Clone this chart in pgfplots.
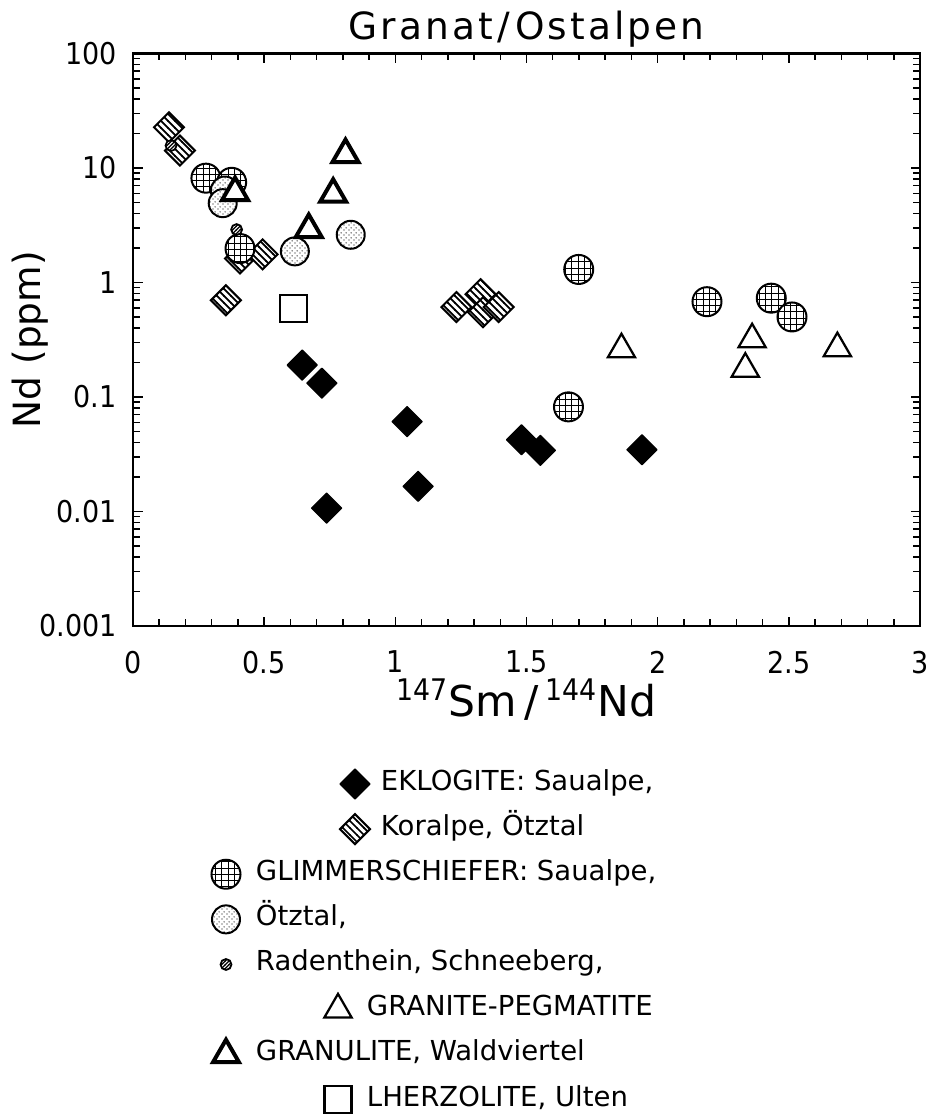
\documentclass[border=0pt]{standalone}
\usepackage{pgfplots}
\pgfplotsset{compat=1.18}
\usetikzlibrary{patterns}
\usepackage{fontspec}
\setmainfont{DejaVu Sans}
\newfontfamily\condfont{DejaVu Sans Condensed}

% fill patterns of the marks
\pgfdeclarepatternformonly{stripes}{\pgfqpoint{-1pt}{-1pt}}{\pgfqpoint{4pt}{4pt}}{\pgfqpoint{2.8pt}{2.8pt}}{%
  \pgfsetlinewidth{0.7pt}%
  \pgfpathmoveto{\pgfqpoint{-0.1pt}{2.9pt}}\pgfpathlineto{\pgfqpoint{2.9pt}{-0.1pt}}%
  \pgfusepath{stroke}}
\pgfdeclarepatternformonly{xgrid}{\pgfqpoint{-1pt}{-1pt}}{\pgfqpoint{3.5pt}{3.5pt}}{\pgfqpoint{2.5pt}{2.5pt}}{%
  \pgfsetlinewidth{0.45pt}%
  \pgfpathmoveto{\pgfqpoint{-0.1pt}{1.25pt}}\pgfpathlineto{\pgfqpoint{2.6pt}{1.25pt}}%
  \pgfpathmoveto{\pgfqpoint{1.25pt}{-0.1pt}}\pgfpathlineto{\pgfqpoint{1.25pt}{2.6pt}}%
  \pgfusepath{stroke}}
\pgfdeclarepatternformonly{fdots}{\pgfqpoint{0pt}{0pt}}{\pgfqpoint{1.8pt}{1.8pt}}{\pgfqpoint{1.8pt}{1.8pt}}{%
  \pgfpathcircle{\pgfqpoint{0.45pt}{0.45pt}}{0.28pt}%
  \pgfpathcircle{\pgfqpoint{1.35pt}{1.35pt}}{0.28pt}%
  \pgfusepath{fill}}
\pgfdeclarepatternformonly{fhatch}{\pgfqpoint{-1pt}{-1pt}}{\pgfqpoint{2.5pt}{2.5pt}}{\pgfqpoint{1.5pt}{1.5pt}}{%
  \pgfsetlinewidth{0.45pt}%
  \pgfpathmoveto{\pgfqpoint{-0.1pt}{-0.1pt}}\pgfpathlineto{\pgfqpoint{1.6pt}{1.6pt}}%
  \pgfusepath{stroke}}

% marks: white background, pattern, outline
\newcommand\mkdiamondpath{%
  \pgfpathmoveto{\pgfqpoint{0pt}{\pgfplotmarksize}}%
  \pgfpathlineto{\pgfqpoint{\pgfplotmarksize}{0pt}}%
  \pgfpathlineto{\pgfqpoint{0pt}{-\pgfplotmarksize}}%
  \pgfpathlineto{\pgfqpoint{-\pgfplotmarksize}{0pt}}%
  \pgfpathclose}
\newcommand\mkcirclepath{\pgfpathcircle{\pgfpointorigin}{\pgfplotmarksize}}
\pgfdeclareplotmark{fdiamond}{\mkdiamondpath\pgfsetfillcolor{black}\pgfsetroundjoin\pgfusepathqfillstroke}
\pgfdeclareplotmark{sdiamond}{\mkdiamondpath\pgfsetfillcolor{white}\pgfusepathqfill
  \mkdiamondpath\pgfsetfillpattern{stripes}{black}\pgfusepathqfillstroke}
\pgfdeclareplotmark{gcircle}{\mkcirclepath\pgfsetfillcolor{white}\pgfusepathqfill
  \mkcirclepath\pgfsetfillpattern{xgrid}{black}\pgfusepathqfillstroke}
\pgfdeclareplotmark{dcircle}{\mkcirclepath\pgfsetfillcolor{white}\pgfusepathqfill
  \mkcirclepath\pgfsetfillpattern{fdots}{black}\pgfusepathqfillstroke}
\pgfdeclareplotmark{hcircle}{\mkcirclepath\pgfsetfillcolor{white}\pgfusepathqfill
  \mkcirclepath\pgfsetfillpattern{fhatch}{black}\pgfusepathqfillstroke}

\pgfplotsset{
  lgimg/.style={legend image code/.code={%
    \path[draw=none,fill=none] (-6pt,-5pt) rectangle (12pt,5pt);
    \draw[overlay] plot coordinates {(#1,0pt)};}},
}

\begin{document}
\begin{tikzpicture}
\begin{axis}[
  scale only axis,
  width=314.8pt, height=229pt,
  xmin=0, xmax=3,
  ymode=log, ymin=0.001, ymax=100,
  xtick={0,0.5,1,1.5,2,2.5,3},
  xticklabels={0,0.5,1,1.5,2,2.5,3},
  minor x tick num=4,
  ytick={0.001,0.01,0.1,1,10,100},
  yticklabels={0.001,0.01,0.1,1,10,100},
  tick align=inside,
  major tick length=3.8pt, minor tick length=2.8pt,
  axis line style={line width=0.9pt},
  every tick/.style={black, line width=0.6pt},
  ticklabel style={font=\condfont\fontsize{12}{12}\selectfont},
  xticklabel style={yshift=-6.5pt},
  yticklabel style={xshift=-3pt},
  title={Granat\hspace{2pt}/\hspace{2pt}Ostalpen},
  title style={at={(0.5,1)}, anchor=base, yshift=-0.4pt,
    font=\fontsize{15}{15}\selectfont\addfontfeatures{LetterSpace=8}},
  xlabel={{\condfont\textsuperscript{147}}Sm\,/\,{\condfont\textsuperscript{144}}Nd},
  xlabel style={at={(axis description cs:0.5,-0.129)}, anchor=center, font=\fontsize{17}{17}\selectfont},
  ylabel={Nd (ppm)},
  ylabel style={at={(axis description cs:-0.131,0.5)}, anchor=center, font=\fontsize{15}{15}\selectfont},
  legend style={at={(axis description cs:0.0991,-0.2541)}, anchor=north west,
    draw=none, fill=none, inner sep=0pt, outer sep=0pt, row sep=8.05pt, column sep=0pt,
    font=\fontsize{11}{11}\selectfont,
    nodes={inner sep=0pt, text height=7.5pt, text depth=2.5pt}},
  legend cell align=left,
]
\coordinate (bl) at (rel axis cs:0,0);
\coordinate (tr) at (rel axis cs:1,1);

% EKLOGITE: Saualpe
\addplot[only marks, mark=fdiamond, mark size=6pt, mark options={line width=0.5pt}, lgimg=51.6pt]
  coordinates {(0.645,0.19) (0.72,0.132) (0.738,0.0107) (1.045,0.061) (1.087,0.0166)
               (1.481,0.0423) (1.553,0.0342) (1.94,0.0346)};
\addlegendentry{\hspace*{50pt}EKLOGITE: Saualpe,}
% Koralpe, Oetztal
\addplot[only marks, mark=sdiamond, mark size=6pt, mark options={line width=0.8pt}, lgimg=51.6pt]
  coordinates {(0.137,22.7) (0.179,14.2) (0.354,0.70) (0.408,1.62) (0.494,1.76)
               (1.233,0.61) (1.325,0.79) (1.334,0.55) (1.394,0.61)};
\addlegendentry{\hspace*{50pt}Koralpe, Ötztal}
% GLIMMERSCHIEFER: Saualpe
\addplot[only marks, mark=gcircle, mark size=5.8pt, mark options={line width=0.8pt}, lgimg=0pt]
  coordinates {(0.278,8.15) (0.376,7.5) (0.408,1.98) (1.66,0.082) (1.699,1.30)
               (2.188,0.68) (2.433,0.73) (2.512,0.50)};
\addlegendentry{GLIMMERSCHIEFER: Saualpe,}
% Oetztal
\addplot[only marks, mark=dcircle, mark size=5.6pt, mark options={line width=0.8pt}, lgimg=0pt]
  coordinates {(0.35,6.36) (0.342,4.93) (0.617,1.87) (0.83,2.61)};
\addlegendentry{Ötztal,}
% Radenthein, Schneeberg
\addplot[only marks, mark=hcircle, mark size=2.2pt, mark options={line width=0.7pt}, lgimg=0pt]
  coordinates {(0.145,15.7) (0.395,2.9)};
\addlegendentry{Radenthein, Schneeberg,}
% GRANITE-PEGMATITE
\addplot[only marks, mark=triangle*, mark size=6.3pt, mark options={fill=white, line width=0.9pt}, lgimg=44.8pt]
  coordinates {(1.862,0.26) (2.36,0.318) (2.334,0.176) (2.685,0.266)};
\addlegendentry{\hspace*{44.4pt}GRANITE-PEGMATITE}
% GRANULITE, Waldviertel
\addplot[only marks, mark=triangle*, mark size=6pt, mark options={fill=white, line width=1.6pt}, lgimg=0pt]
  coordinates {(0.389,6.1) (0.67,2.9) (0.763,5.9) (0.81,13.1)};
\addlegendentry{GRANULITE, Waldviertel}
% LHERZOLITE, Ulten
\addplot[only marks, mark=square*, mark size=5.4pt, mark options={fill=white, line width=0.9pt}, lgimg=44.8pt]
  coordinates {(0.611,0.596)};
\addlegendentry{\hspace*{44.4pt}LHERZOLITE, Ulten}
\end{axis}
\pgfresetboundingbox
\path[use as bounding box] ([shift={(-53.2pt,-195.6pt)}]bl) rectangle ([shift={(2.8pt,21.4pt)}]tr);
\end{tikzpicture}
\end{document}
